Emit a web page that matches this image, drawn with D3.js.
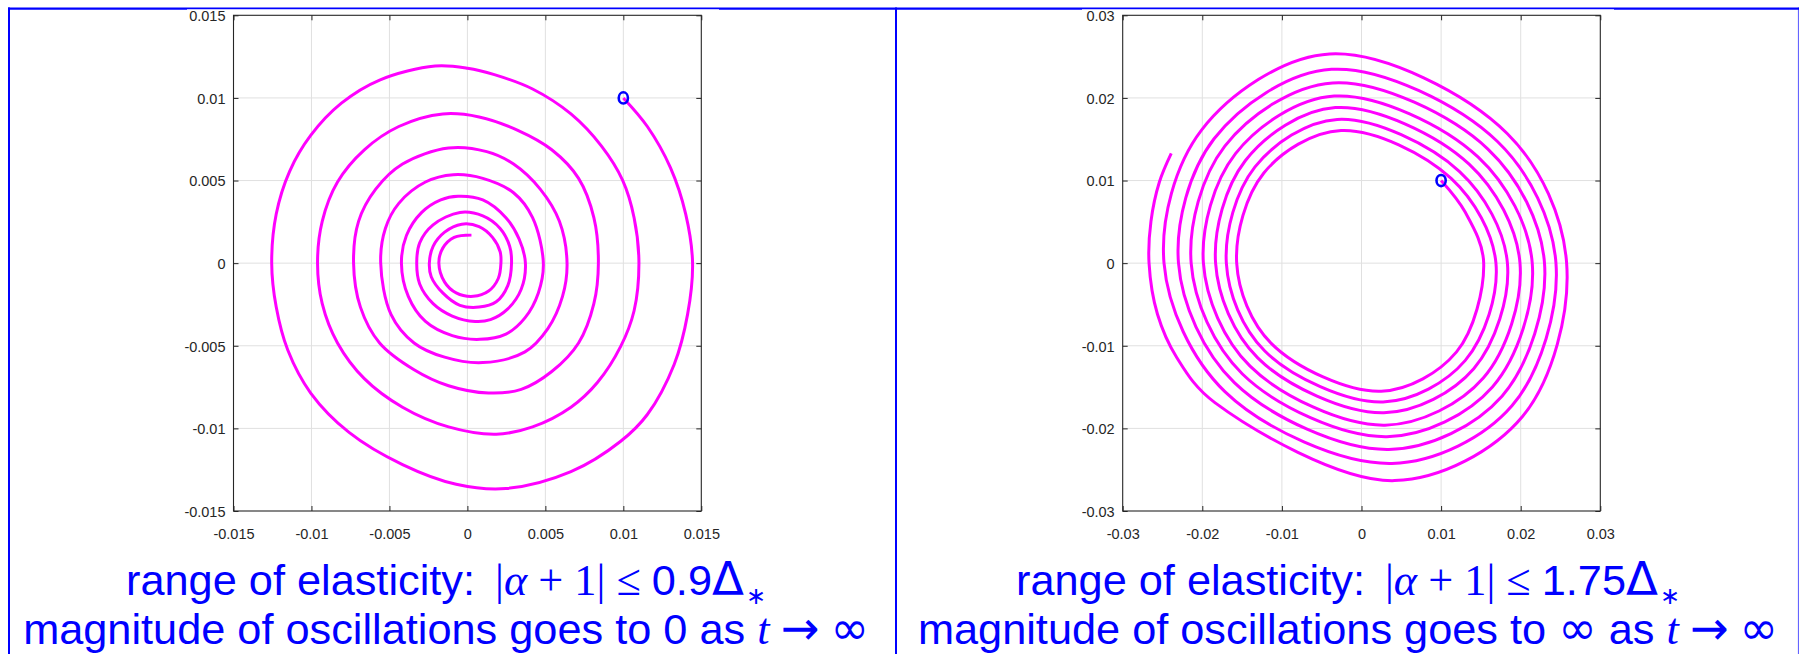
<!DOCTYPE html>
<html><head><meta charset="utf-8">
<script src="https://cdn.jsdelivr.net/npm/d3@7"></script>
<style>body{margin:0;background:#fff;} svg{display:block} text{white-space:pre}</style>
</head><body>
<svg id="c" width="1799" height="654"></svg>
<script>
// ---------------- data ----------------
const leftTicks = [-0.015, -0.01, -0.005, 0, 0.005, 0.01, 0.015];
const leftTickLabels = ["-0.015", "-0.01", "-0.005", "0", "0.005", "0.01", "0.015"];
const rightTicks = [-0.03, -0.02, -0.01, 0, 0.01, 0.02, 0.03];
const rightTickLabels = ["-0.03", "-0.02", "-0.01", "0", "0.01", "0.02", "0.03"];

const leftStart = [0.01, 0.01];
const rightStart = [0.01, 0.01];

const leftX = [
 0.01000, 0.01154, 0.01302, 0.01400, 0.01444, 0.01412, 0.01326, 0.01154, 0.00983, 0.00664,
 0.00247, -0.00072, -0.00416, -0.00759, -0.01005, -0.01152, -0.01226, -0.01255, -0.01226, -0.01140,
 -0.01005, -0.00808, -0.00563, -0.00207, 0.00001, 0.00173, 0.00418, 0.00664, 0.00860, 0.00995,
 0.01069, 0.01100, 0.01069, 0.00983, 0.00835, 0.00664, 0.00418, 0.00185, -0.00121, -0.00416,
 -0.00661, -0.00833, -0.00931, -0.00961, -0.00931, -0.00833, -0.00661, -0.00440, -0.00158, 0.00075,
 0.00320, 0.00541, 0.00713, 0.00811, 0.00840, 0.00811, 0.00713, 0.00541, 0.00345, 0.00136,
 -0.00121, -0.00342, -0.00563, -0.00686, -0.00730, -0.00698, -0.00588, -0.00416, -0.00121, 0.00124,
 0.00296, 0.00467, 0.00590, 0.00639, 0.00610, 0.00516, 0.00369, 0.00099, -0.00146, -0.00342,
 -0.00490, -0.00556, -0.00526, -0.00440, -0.00269, -0.00090, 0.00099, 0.00296, 0.00418, 0.00487,
 0.00455, 0.00369, 0.00247, 0.00080, -0.00097, -0.00269, -0.00379, -0.00423, -0.00391, -0.00293,
 -0.00171, -0.00060, 0.00099, 0.00247, 0.00332, 0.00372, 0.00345, 0.00259, 0.00148, 0.00050,
 -0.00097, -0.00220, -0.00306, -0.00325, -0.00306, -0.00220, -0.00048, 0.00099, 0.00210, 0.00271,
 0.00283, 0.00259, 0.00185, 0.00075, -0.00048, -0.00158, -0.00232, -0.00244, -0.00220, -0.00146,
 -0.00036, 0.00075, 0.00161, 0.00210, 0.00215, 0.00198, 0.00136, 0.00038, -0.00072, -0.00146,
 -0.00183, -0.00158, -0.00085, 0.00026
];
const leftY = [
 0.01000, 0.00827, 0.00578, 0.00297, 0.00000, -0.00310, -0.00613, -0.00916, -0.01078, -0.01262,
 -0.01364, -0.01338, -0.01219, -0.01024, -0.00786, -0.00526, -0.00266, 0.00000, 0.00297, 0.00556,
 0.00773, 0.00968, 0.01108, 0.01193, 0.01180, 0.01141, 0.01054, 0.00903, 0.00708, 0.00502,
 0.00275, 0.00000, -0.00288, -0.00504, -0.00721, -0.00872, -0.00991, -0.01035, -0.00991, -0.00872,
 -0.00699, -0.00483, -0.00245, 0.00000, 0.00253, 0.00491, 0.00686, 0.00827, 0.00903, 0.00885,
 0.00805, 0.00686, 0.00513, 0.00275, 0.00000, -0.00245, -0.00483, -0.00656, -0.00764, -0.00786,
 -0.00742, -0.00645, -0.00483, -0.00266, 0.00000, 0.00253, 0.00448, 0.00600, 0.00697, 0.00675,
 0.00600, 0.00448, 0.00253, 0.00000, -0.00201, -0.00396, -0.00537, -0.00602, -0.00569, -0.00483,
 -0.00310, 0.00000, 0.00210, 0.00362, 0.00491, 0.00535, 0.00513, 0.00426, 0.00275, 0.00000,
 -0.00180, -0.00331, -0.00429, -0.00461, -0.00439, -0.00353, -0.00201, 0.00000, 0.00167, 0.00307,
 0.00383, 0.00405, 0.00383, 0.00275, 0.00145, 0.00000, -0.00158, -0.00277, -0.00342, -0.00353,
 -0.00320, -0.00245, -0.00126, 0.00000, 0.00123, 0.00232, 0.00307, 0.00286, 0.00210, 0.00102,
 0.00000, -0.00136, -0.00234, -0.00266, -0.00255, -0.00180, -0.00082, 0.00000, 0.00102, 0.00188,
 0.00236, 0.00221, 0.00156, 0.00069, 0.00000, -0.00093, -0.00169, -0.00201, -0.00180, -0.00115,
 0.00000, 0.00091, 0.00156, 0.00171
];

const rightX = [
 0.01000, 0.01304, 0.01535, 0.01194, 0.00247, -0.01131, -0.01568, -0.01227, -0.00257, 0.01126,
 0.01689, 0.01304, 0.00271, -0.01218, -0.01698, -0.01338, -0.00305, 0.01232,
 0.01833, 0.01410, 0.00281, -0.01304, -0.01833, -0.01458, -0.00329, 0.01352,
 0.01991, 0.01530, 0.00295, -0.01400, -0.01986, -0.01583, -0.00343, 0.01463,
 0.02145, 0.01645, 0.00319, -0.01496, -0.02140, -0.01717, -0.00363, 0.01588,
 0.02299, 0.01765, 0.00343, -0.01597, -0.02299, -0.01852, -0.00377, 0.01708,
 0.02443, 0.01890, 0.00382, -0.01713, -0.02481, -0.02010, -0.00401, 0.01833,
 0.02577, 0.02025, 0.00416, -0.01842, -0.02323, -0.02563, -0.02669, -0.02645, -0.02539, -0.02390
];
const rightY = [
 0.01000, 0.00615, 0.00000, -0.01074, -0.01550, -0.00974, 0.00000, 0.01091, 0.01606, 0.01026,
 0.00000, -0.01177, -0.01680, -0.01061, 0.00000, 0.01165, 0.01740, 0.01108,
 0.00000, -0.01277, -0.01810, -0.01147, 0.00000, 0.01242, 0.01883, 0.01199,
 0.00000, -0.01390, -0.01961, -0.01247, 0.00000, 0.01325, 0.02022, 0.01286,
 0.00000, -0.01498, -0.02100, -0.01342, 0.00000, 0.01416, 0.02182, 0.01381,
 0.00000, -0.01610, -0.02255, -0.01446, 0.00000, 0.01506, 0.02346, 0.01472,
 0.00000, -0.01727, -0.02424, -0.01558, 0.00000, 0.01610, 0.02532, 0.01567,
 0.00000, -0.01853, -0.02632, -0.01688, -0.01139, -0.00619, 0.00000, 0.00506, 0.00983, 0.01329
];

// caption segments: [text, style]  s = sans, m = math roman, mi = math italic,
// sym = large math symbol, D = Delta, sub = subscript, gap = math opening bar
const captionLeft1 = [["range of elasticity: ", "s"], ["|", "gap"], ["α", "mi"], [" + 1", "m"], ["|", "m"], [" ≤ ", "m"], ["0.9", "s"], ["Δ", "D"], ["∗", "sub"]];
const captionLeft2 = [["magnitude of oscillations goes to 0 as ", "s"], ["t", "mi"], [" ", "m"], ["→", "sym"], [" ", "m"], ["∞", "sym"]];
const captionRight1 = [["range of elasticity: ", "s"], ["|", "gap"], ["α", "mi"], [" + 1", "m"], ["|", "m"], [" ≤ ", "m"], ["1.75", "s"], ["Δ", "D"], ["∗", "sub"]];
const captionRight2 = [["magnitude of oscillations goes to ", "s"], ["∞", "sym"], [" as ", "s"], ["t", "mi"], [" ", "m"], ["→", "sym"], [" ", "m"], ["∞", "sym"]];

// ---------------- drawing ----------------
const SANS = "'Liberation Sans', Arial, sans-serif";
const SERIF = "'Liberation Serif', 'DejaVu Serif', serif";
const SYM = "'DejaVu Sans', sans-serif";
const BLUE = "#0000ff";
const AXC = "#262626";
const svg = d3.select("#c");

// slide frame
svg.append("line").attr("x1", 8).attr("x2", 1799).attr("y1", 8.7).attr("y2", 8.7)
  .attr("stroke", BLUE).attr("stroke-width", 2.2);
[9, 896].forEach(xx => svg.append("line").attr("x1", xx).attr("x2", xx).attr("y1", 7.6).attr("y2", 654)
  .attr("stroke", BLUE).attr("stroke-width", 2));
svg.append("line").attr("x1", 1798.5).attr("x2", 1798.5).attr("y1", 7.6).attr("y2", 654)
  .attr("stroke", BLUE).attr("stroke-width", 1.2).attr("opacity", 0.6);

// white figure backgrounds (cover part of the frame line)
[[187, 532], [1082, 532]].forEach(([x0, w]) => svg.append("rect").attr("x", x0).attr("y", 9.3)
  .attr("width", w).attr("height", 545).attr("fill", "#fff"));

function panel(cfg) {
  const g = svg.append("g");
  const x = d3.scaleLinear().domain(cfg.domain).range([cfg.left, cfg.right]);
  const y = d3.scaleLinear().domain(cfg.domain).range([cfg.bottom, cfg.top]);
  const inner = cfg.ticks.slice(1, -1);
  // grid
  g.append("g").selectAll("line").data(inner).join("line")
    .attr("x1", d => x(d)).attr("x2", d => x(d)).attr("y1", cfg.top).attr("y2", cfg.bottom)
    .attr("stroke", "#e0e0e0").attr("stroke-width", 1);
  g.append("g").selectAll("line").data(inner).join("line")
    .attr("y1", d => y(d)).attr("y2", d => y(d)).attr("x1", cfg.left).attr("x2", cfg.right)
    .attr("stroke", "#e0e0e0").attr("stroke-width", 1);
  // curve
  const line = d3.line().x(d => x(d[0])).y(d => y(d[1])).curve(d3.curveCatmullRom.alpha(0.5));
  g.append("path").datum(d3.zip(cfg.xs, cfg.ys)).attr("d", line)
    .attr("fill", "none").attr("stroke", "#ff00ff").attr("stroke-width", 3)
    .attr("stroke-linejoin", "round");
  // axes
  const fmt = d => cfg.labels[cfg.ticks.indexOf(d)];
  const axB = g.append("g").attr("transform", `translate(0,${cfg.bottom})`)
    .call(d3.axisBottom(x).tickValues(cfg.ticks).tickFormat(fmt).tickSizeInner(-5).tickSizeOuter(0).tickPadding(0));
  const axT = g.append("g").attr("transform", `translate(0,${cfg.top})`)
    .call(d3.axisTop(x).tickValues(cfg.ticks).tickFormat("").tickSizeInner(-5).tickSizeOuter(0));
  const axL = g.append("g").attr("transform", `translate(${cfg.left},0)`)
    .call(d3.axisLeft(y).tickValues(cfg.ticks).tickFormat(fmt).tickSizeInner(-5).tickSizeOuter(0).tickPadding(0));
  const axR = g.append("g").attr("transform", `translate(${cfg.right},0)`)
    .call(d3.axisRight(y).tickValues(cfg.ticks).tickFormat("").tickSizeInner(-5).tickSizeOuter(0));
  [axB, axT, axL, axR].forEach(a => {
    a.select(".domain").remove();
    a.selectAll("line").attr("stroke", AXC);
    a.selectAll("text").attr("fill", AXC).attr("font-family", SANS).attr("font-size", 14.5);
  });
  axB.selectAll("text").attr("y", 27.5).attr("dy", null);
  axL.selectAll("text").attr("x", -8).attr("dy", "0.36em");
  // box
  g.append("rect").attr("x", cfg.left).attr("y", cfg.top).attr("width", cfg.right - cfg.left)
    .attr("height", cfg.bottom - cfg.top).attr("fill", "none").attr("stroke", AXC).attr("stroke-width", 1.1);
  // start marker
  g.append("ellipse").attr("cx", x(cfg.start[0])).attr("cy", y(cfg.start[1])).attr("rx", 4.6).attr("ry", 5.6)
    .attr("fill", "none").attr("stroke", BLUE).attr("stroke-width", 2.6);
}

panel({left: 233.5, right: 701.3, top: 15.3, bottom: 511, domain: [-0.015, 0.015],
  ticks: leftTicks, labels: leftTickLabels, xs: leftX, ys: leftY, start: leftStart});
panel({left: 1122.7, right: 1600.3, top: 15.3, bottom: 511, domain: [-0.03, 0.03],
  ticks: rightTicks, labels: rightTickLabels, xs: rightX, ys: rightY, start: rightStart});

function caption(cx, yb, segs, fs) {
  const t = svg.append("text").attr("x", cx).attr("y", yb).attr("text-anchor", "middle")
    .attr("fill", BLUE).attr("font-size", fs);
  segs.forEach(([s, k]) => {
    const ts = t.append("tspan").text(s);
    if (k === "s") ts.attr("font-family", SANS);
    else if (k === "m") ts.attr("font-family", SERIF).attr("font-size", 44.3);
    else if (k === "gap") ts.attr("font-family", SERIF).attr("font-size", 44.3).attr("dx", 8);
    else if (k === "mi") ts.attr("font-family", SERIF).attr("font-style", "italic").attr("font-size", 44.3);
    else if (k === "sym") ts.attr("font-family", SYM).attr("font-size", 46.2);
    else if (k === "D") ts.attr("font-family", SYM).attr("font-size", fs * 1.08);
    else if (k === "sub") ts.attr("font-family", SANS).attr("font-size", fs * 0.55).attr("dx", 2).attr("dy", fs * 0.2);
  });
  return t;
}
const FS = 43.3;
caption(446, 595, captionLeft1, FS);
caption(446, 644, captionLeft2, FS);
caption(1348, 595, captionRight1, FS);
caption(1348, 644, captionRight2, FS);
</script>
</body></html>
